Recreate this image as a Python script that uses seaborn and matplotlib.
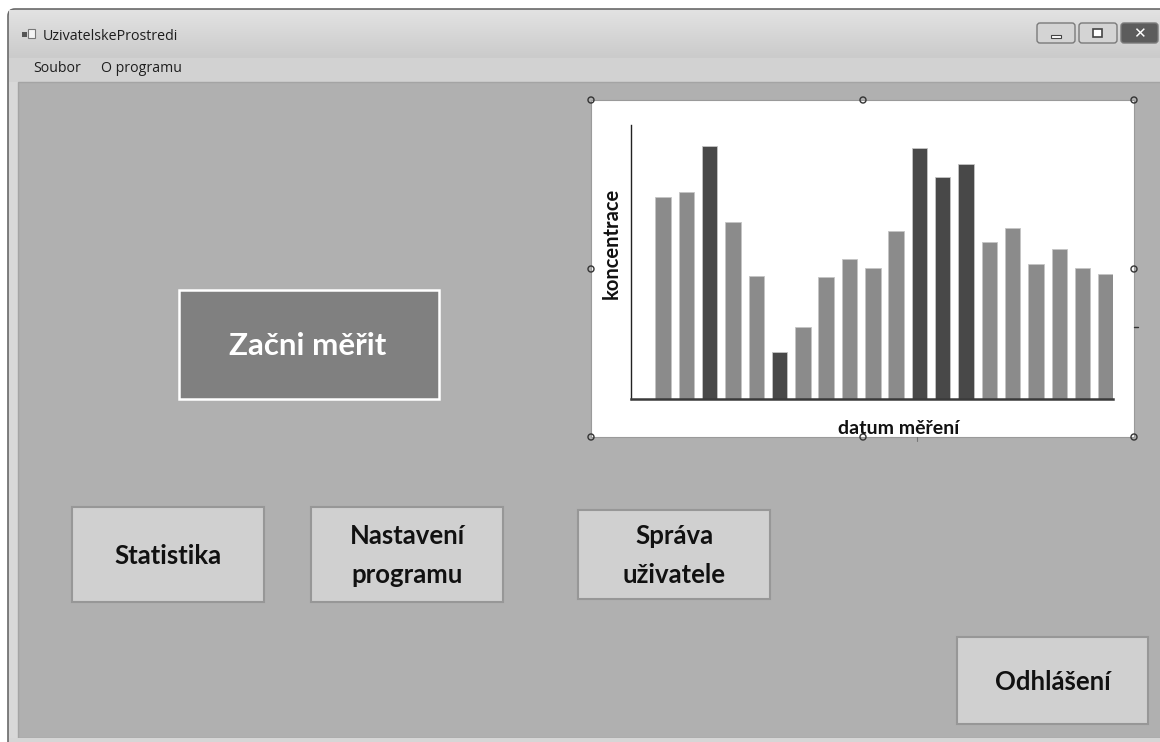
import numpy as np
import pandas as pd
import matplotlib
matplotlib.use("Agg")
import matplotlib.pyplot as plt
from matplotlib.patches import Rectangle, FancyBboxPatch, Arc
import seaborn as sns

# ---------------- data ----------------
dates = [f"d{i}" for i in range(1, 21)]
concentration = [202, 207, 253, 177, 123, 47, 72, 122, 140, 131,
                 168, 251, 222, 235, 157, 171, 135, 150, 131, 125]
group = ["norm", "norm", "high", "norm", "norm", "high", "norm", "norm", "norm", "norm",
         "norm", "high", "high", "high", "norm", "norm", "norm", "norm", "norm", "norm"]
x_label = "datum měření"
y_label = "koncentrace"
window_title = "UzivatelskeProstredi"
menu_items = ["Soubor", "O programu"]
start_button = "Začni měřit"
buttons = ["Statistika", "Nastavení\nprogramu", "Správa\nuživatele", "Odhlášení"]

sns.set_theme(style="white")
plt.rcParams["font.family"] = ["Lato", "DejaVu Sans"]

W, H = 1160, 742
fig = plt.figure(figsize=(W / 100, H / 100), dpi=100)
fig.patch.set_facecolor("white")

# background "window" axes in pixel coords
bg = fig.add_axes([0, 0, 1, 1])
bg.set_xlim(0, W)
bg.set_ylim(H, 0)
bg.axis("off")

# window frame
frame = FancyBboxPatch((8, 9), W + 20, H, boxstyle="round,pad=0,rounding_size=7",
                       facecolor="#d8d8d8", edgecolor="#6a6a6a", linewidth=1.2, zorder=1)
bg.add_patch(frame)
# title bar gradient
grad = np.linspace(0, 1, 50).reshape(-1, 1)
bg.imshow(grad, extent=(9, W, 58, 10), cmap=matplotlib.colors.LinearSegmentedColormap.from_list(
    "t", ["#e2e2e2", "#cbcbcb"]), aspect="auto", zorder=2)
bg.add_patch(Rectangle((9, 58), W, 24, facecolor="#d2d2d2", edgecolor="none", zorder=2))
# client area
bg.add_patch(Rectangle((18, 82), W, 656, facecolor="#b0b0b0", edgecolor="#a4a4a4",
                       linewidth=1, zorder=3))
bg.add_patch(Rectangle((9, 738), W, 10, facecolor="#d6d6d6", edgecolor="none", zorder=3))

# title icon + text
bg.add_patch(Rectangle((22, 32), 5, 5, facecolor="#555555", edgecolor="none", zorder=4))
bg.add_patch(Rectangle((28, 29), 7, 9, facecolor="#f4f4f4", edgecolor="#777777", lw=0.8, zorder=4))
bg.text(43, 36, window_title, fontsize=10.3, family=["Open Sans", "DejaVu Sans"],
        color="#1e1e1e", va="center", ha="left", zorder=5)
bg.text(33, 69, menu_items[0], fontsize=10.2, family=["Open Sans", "DejaVu Sans"],
        color="#1e1e1e", va="center", ha="left", zorder=5)
bg.text(101, 69, menu_items[1], fontsize=10.2, family=["Open Sans", "DejaVu Sans"],
        color="#1e1e1e", va="center", ha="left", zorder=5)

# caption buttons
for x0, x1, fc in [(1037, 1075, "#d4d4d4"), (1079, 1117, "#d4d4d4"), (1121, 1158, "#5c5c5c")]:
    bg.add_patch(FancyBboxPatch((x0, 23), x1 - x0, 20, boxstyle="round,pad=0,rounding_size=3",
                                facecolor=fc, edgecolor="#7a7a7a", lw=1, zorder=4))
bg.add_patch(Rectangle((1051, 35), 10, 3, facecolor="white", edgecolor="#444444", lw=0.8, zorder=5))
bg.add_patch(Rectangle((1093, 29), 9, 8, facecolor="white", edgecolor="#444444", lw=1.2, zorder=5))
bg.text(1139.5, 33.5, "✕", fontsize=11, fontweight="bold", color="white",
        family=["DejaVu Sans"], ha="center", va="center", zorder=5)

# start button
bg.add_patch(Rectangle((179, 290), 260, 109, facecolor="#808080", edgecolor="white",
                       linewidth=1.8, zorder=4))
bg.text(308, 346, start_button, fontsize=22.5, fontweight="bold", color="white",
        ha="center", va="center", zorder=5)

# other buttons
btn_boxes = [(72, 507, 264, 602), (311, 507, 503, 602), (578, 510, 770, 599), (957, 637, 1148, 724)]
for (x0, y0, x1, y1), label in zip(btn_boxes, buttons):
    bg.add_patch(Rectangle((x0, y0), x1 - x0, y1 - y0, facecolor="#d0d0d0", edgecolor="#979797",
                           linewidth=1.5, zorder=4))
    bg.text((x0 + x1) / 2, (y0 + y1) / 2 + 1, label, fontsize=18.5, fontweight="bold",
            color="#111111", ha="center", va="center", linespacing=1.75, zorder=5)

# chart panel (white)
bg.add_patch(Rectangle((591, 100), 543, 337, facecolor="white", edgecolor="#9a9a9a",
                       linewidth=0.8, zorder=4))
for hx, hy in [(591, 100), (863, 100), (1134, 100), (591, 269), (1134, 269),
               (591, 437), (863, 437), (1134, 437)]:
    bg.add_patch(Arc((hx, hy), 6, 6, theta1=0, theta2=360, color="#333333", lw=1.0, zorder=6))
bg.plot([1134, 1138], [327, 327], color="#333333", lw=1, zorder=6)
bg.plot([917, 917], [437, 441], color="#777777", lw=0.8, zorder=6)

# ---------------- chart ----------------
ax_l, ax_r, ax_t, ax_b = 631, 1113, 125, 399
ax = fig.add_axes([ax_l / W, (H - ax_b) / H, (ax_r - ax_l) / W, (ax_b - ax_t) / H])
ax.set_zorder(10)
ax.patch.set_alpha(0)

df = pd.DataFrame({"datum": dates, "koncentrace": concentration, "skupina": group})
sns.barplot(data=df, x="datum", y="koncentrace", hue="skupina", order=dates,
            palette={"norm": "#8b8b8b", "high": "#484848"}, dodge=False, width=0.66,
            edgecolor="#c4c4c4", linewidth=0.6, legend=False, ax=ax)

ax.set_xlim(-1.37, 19.3)
ax.set_ylim(0, 274)
ax.set_xticks([])
ax.set_yticks([])
ax.set_xlabel("")
ax.set_ylabel("")
for s in ["top", "right"]:
    ax.spines[s].set_visible(False)
ax.spines["left"].set_color("#222222")
ax.spines["left"].set_linewidth(1.0)
ax.spines["bottom"].set_color("#3a3a3a")
ax.spines["bottom"].set_linewidth(1.8)

bg.text(612, 243, y_label, fontsize=14.5, fontweight="bold", rotation=90, color="#111111",
        ha="center", va="center", zorder=7)
bg.text(899, 428, x_label, fontsize=14, fontweight="bold", color="#111111",
        ha="center", va="center", zorder=7)

fig.savefig("out.png", dpi=100)
